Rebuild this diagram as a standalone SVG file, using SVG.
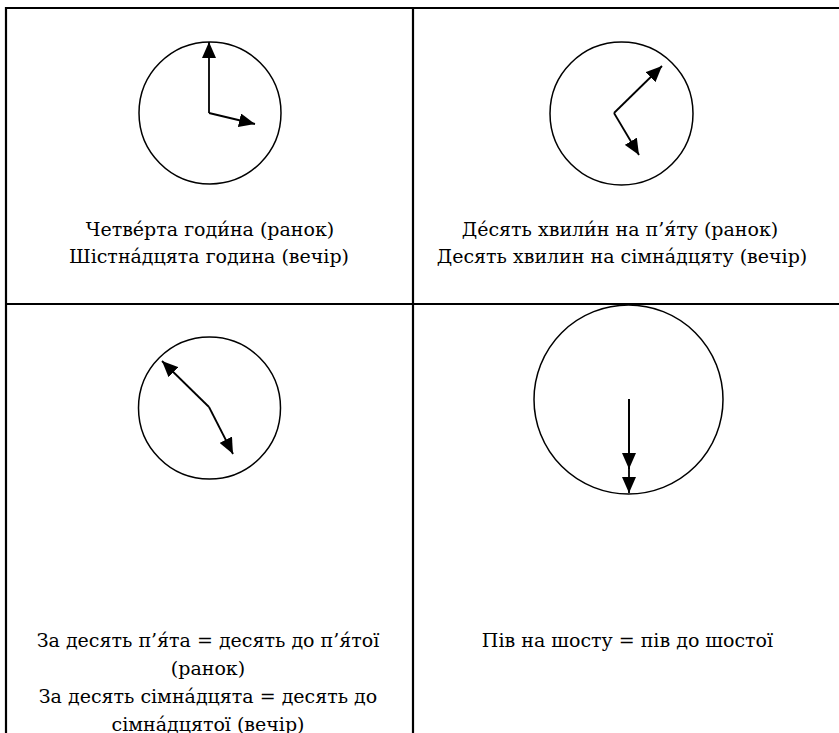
<svg xmlns="http://www.w3.org/2000/svg" width="839" height="733" viewBox="0 0 839 733">
<style>
.grid{stroke:#000;stroke-width:2.2;fill:none}
.dial{stroke:#000;stroke-width:1.5;fill:none}
.hand{stroke:#000;stroke-width:1.8;fill:none;marker-end:url(#ah)}
.t{font-family:'DejaVu Serif',serif;font-size:19px;fill:#000;text-anchor:middle}
</style>
<defs>
<marker id="ah" markerUnits="userSpaceOnUse" markerWidth="16" markerHeight="14" refX="16" refY="7" orient="auto" viewBox="0 0 16 14">
<path d="M0,0 L16,7 L0,14 z" fill="#000"/>
</marker>
</defs>
<rect width="839" height="733" fill="#fff"/>
<g id="table">
<line class="grid" x1="5" y1="8" x2="839" y2="8"/>
<line class="grid" x1="5" y1="304" x2="839" y2="304"/>
<line class="grid" x1="6" y1="7" x2="6" y2="733"/>
<line class="grid" x1="413" y1="7" x2="413" y2="733"/>
</g>
<g id="cell1">
<circle class="dial" cx="210" cy="113" r="71"/>
<line class="hand" x1="209" y1="113" x2="209" y2="42"/>
<line class="hand" x1="209" y1="113" x2="255" y2="124"/>
<text class="t" x="210" y="236">Четве́рта годи́на (ранок)</text>
<text class="t" x="209" y="263">Шістна́дцята година (вечір)</text>
</g>
<g id="cell2">
<circle class="dial" cx="621.5" cy="113.5" r="71.5"/>
<line class="hand" x1="614" y1="113" x2="662" y2="66"/>
<line class="hand" x1="614" y1="113" x2="639" y2="155"/>
<text class="t" x="620" y="236">Де́сять хвили́н на п’я́ту (ранок)</text>
<text class="t" x="622" y="263">Десять хвилин на сімна́дцяту (вечір)</text>
</g>
<g id="cell3">
<circle class="dial" cx="209.5" cy="408" r="71"/>
<line class="hand" x1="209" y1="407" x2="162" y2="361"/>
<line class="hand" x1="209" y1="407" x2="233" y2="454"/>
<text class="t" x="208" y="647">За десять п’я́та = десять до п’я́тої</text>
<text class="t" x="208" y="675">(ранок)</text>
<text class="t" x="208" y="703">За десять сімна́дцята = десять до</text>
<text class="t" x="208" y="731">сімна́дцятої (вечір)</text>
</g>
<g id="cell4">
<circle class="dial" cx="628.5" cy="399.5" r="94.5"/>
<line class="hand" x1="629" y1="399" x2="629" y2="493"/>
<line class="hand" x1="629" y1="399" x2="629" y2="469"/>
<text class="t" x="627.5" y="647">Пів на шосту = пів до шостої</text>
</g>
</svg>
